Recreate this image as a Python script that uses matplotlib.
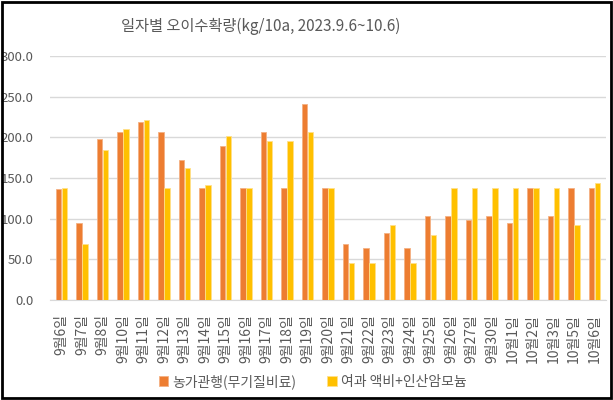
import numpy as np
import matplotlib
matplotlib.use("Agg")
import matplotlib.pyplot as plt
from matplotlib.patches import Rectangle

plt.rcParams['font.family'] = ['Noto Sans CJK KR', 'DejaVu Sans']

# 날짜 (x축)
dates = ["9월6일", "9월7일", "9월8일", "9월10일", "9월11일", "9월12일", "9월13일",
         "9월14일", "9월15일", "9월16일", "9월17일", "9월18일", "9월19일", "9월20일",
         "9월21일", "9월22일", "9월23일", "9월24일", "9월25일", "9월26일", "9월27일",
         "9월30일", "10월1일", "10월2일", "10월3일", "10월5일", "10월6일"]

# 농가관행(무기질비료)
conv = [137, 95, 198, 207, 219, 207, 172, 138, 189, 138, 207, 138, 241, 138,
        69, 64, 82, 64, 103, 103, 98, 103, 95, 138, 103, 138, 138]
# 여과 액비+인산암모늄
liquid = [138, 69, 184, 210, 221, 138, 162, 142, 202, 138, 196, 196, 206, 138,
          46, 46, 92, 46, 80, 138, 138, 138, 138, 138, 138, 92, 144]

series_names = ["농가관행(무기질비료)", "여과 액비+인산암모늄"]
yticks = [0, 50, 100, 150, 200, 250, 300]

txt = "#595959"

fig = plt.figure(figsize=(6.13, 4.0), dpi=100)
ax = fig.add_axes([0.082, 0.25, 0.906, 0.61])

x = np.arange(len(dates))
w = 0.27
ax.bar(x - w / 2 - 0.01, conv, w, color="#ED7D31", edgecolor="#F4B183", linewidth=0.6,
       label=series_names[0], zorder=3)
ax.bar(x + w / 2 + 0.01, liquid, w, color="#FFC000", edgecolor="#FFE08A", linewidth=0.6,
       label=series_names[1], zorder=3)

ax.set_xlim(-0.55, len(dates) - 0.45)
ax.set_ylim(0, 300)
ax.set_yticks(yticks)
ax.set_yticklabels([f"{v:.1f}" for v in yticks], fontsize=9.5, color=txt)
ax.yaxis.grid(True, color="#D9D9D9", linewidth=1, zorder=0)
ax.set_xticks(x)
ax.set_xticklabels(dates, rotation=90, fontsize=10, color=txt, va="top")
ax.tick_params(axis="both", length=0)
ax.tick_params(axis="y", pad=12)
ax.tick_params(axis="x", pad=10)
for s in ["top", "right", "left"]:
    ax.spines[s].set_visible(False)
ax.spines["bottom"].set_color("#D9D9D9")

fig.text(0.425, 0.935, "일자별 오이수확량(kg/10a, 2023.9.6~10.6)", fontsize=11,
         color=txt, ha="center", va="center")

fig.legend(loc="lower center", bbox_to_anchor=(0.51, -0.003), ncol=2, frameon=False,
           fontsize=10, handlelength=0.7, handleheight=0.7, columnspacing=2.2,
           handletextpad=0.3, labelcolor=txt)

# 바깥 테두리
fig.patches.append(Rectangle((0.004, 0.006), 0.992, 0.988, transform=fig.transFigure,
                             fill=False, edgecolor="black", linewidth=2))

plt.savefig("out.png", dpi=100)
